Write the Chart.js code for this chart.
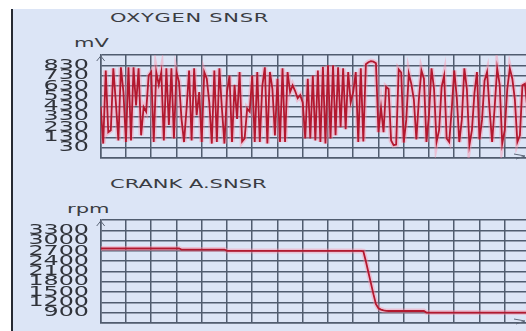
<!DOCTYPE html>
<html>
<head>
<meta charset="utf-8">
<script src="https://cdn.jsdelivr.net/npm/chart.js@4"></script>
<style>
  body {
    margin: 0;
    width: 526px;
    height: 331px;
    overflow: hidden;
    background: #ffffff;
    position: relative;
  }
  #panel {
    position: absolute;
    left: 11px;
    top: 9px;
    right: 0;
    bottom: 0;
    background: #dce5f6;
    border-left: 2px solid #262a33;
  }
  .lbl {
    position: absolute;
    font-family: "DejaVu Sans", sans-serif;
    font-size: 12px;
    line-height: 12px;
    color: #3a3c42;
    white-space: nowrap;
    transform: scaleX(1.75);
    transform-origin: 0 0;
  }
  .box {
    position: absolute;
    left: 12px;
    width: 518px;
    height: 120px;
  }
</style>
</head>
<body>
<div id="panel"></div>
<div class="lbl" style="left:110px; top:12px; letter-spacing:0.4px">OXYGEN SNSR</div>
<div class="lbl" style="left:74px; top:37px">mV</div>
<div class="lbl" style="left:110px; top:178px">CRANK A.SNSR</div>
<div class="lbl" style="left:67px; top:203px">rpm</div>
<div class="box" style="top:50px"><canvas id="o2Chart" width="518" height="120"></canvas></div>
<div class="box" style="top:215px"><canvas id="rpmChart" width="518" height="120"></canvas></div>

<script>
// oxygen sensor voltage (mV), one value per sample
const o2Values = [
  430, 70, 780, 180, 200, 800, 470, 100, 810, 570,
  85, 810, 100, 810, 440, 800, 150, 425, 380, 730,
  765, 85, 765, 640, 765, 100, 800, 250, 800, 120,
  765, 670, 310, 85, 410, 780, 100, 800, 345, 570,
  85, 765, 700, 470, 70, 780, 85, 800, 410, 70,
  570, 730, 85, 640, 310, 765, 90, 120, 410, 380,
  730, 85, 765, 85, 630, 810, 70, 765, 600, 150,
  700, 85, 800, 85, 765, 570, 635, 580, 510, 540,
  470, 120, 700, 120, 730, 100, 780, 85, 815, 70,
  830, 120, 830, 150, 810, 230, 800, 210, 765, 470,
  570, 765, 85, 800, 90, 840, 860, 870, 865, 850,
  180, 420, 180, 620, 600, 100, 55, 60, 790, 760,
  80, 300, 750, 650, 500, 110, 500, 780, 700, 85,
  350, 800, 600, 85, 200, 620, 730, 120, 85, 400,
  780, 520, 85, 300, 800, 600, 55, 200, 560, 765,
  110, 300, 680, 765, 400, 85, 420, 800, 640, 70,
  200, 600, 800, 700, 500, 85, 150, 635, 650, 400,
  200
];

// crankshaft speed (rpm), same samples
const rpmValues = [
  2770, 2770, 2770, 2770, 2770, 2770, 2770, 2770, 2770, 2770,
  2770, 2770, 2770, 2770, 2770, 2770, 2770, 2770, 2770, 2770,
  2770, 2770, 2770, 2770, 2770, 2770, 2770, 2770, 2770, 2770,
  2770, 2770, 2740, 2740, 2740, 2740, 2740, 2740, 2740, 2740,
  2740, 2740, 2740, 2740, 2740, 2740, 2740, 2740, 2740, 2740,
  2700, 2700, 2700, 2700, 2700, 2700, 2700, 2700, 2700, 2700,
  2700, 2700, 2700, 2700, 2700, 2700, 2700, 2700, 2700, 2700,
  2700, 2700, 2700, 2700, 2700, 2700, 2700, 2700, 2700, 2700,
  2700, 2700, 2700, 2700, 2700, 2700, 2700, 2700, 2700, 2700,
  2700, 2700, 2700, 2700, 2700, 2700, 2700, 2700, 2700, 2700,
  2700, 2700, 2700, 2700, 2690, 2400, 2080, 1760, 1440, 1150,
  1030, 990, 965, 955, 950, 950, 950, 950, 950, 950,
  950, 950, 950, 950, 950, 950, 950, 950, 950, 905,
  905, 905, 905, 905, 905, 905, 905, 905, 905, 905,
  905, 905, 905, 905, 905, 905, 905, 905, 905, 905,
  905, 905, 905, 905, 905, 905, 905, 905, 905, 905,
  905, 905, 905, 905, 905, 905, 905, 905, 905, 905,
  905
];

const o2Ticks = [830, 730, 630, 530, 430, 330, 230, 130, 30];
const rpmTicks = [3300, 3000, 2700, 2400, 2100, 1800, 1500, 1200, 900];

const sampleCount = 170;
const gridColor = "#505c6f";
const labelRight = 77; // right edge of tick text, inside the canvas

// tick labels are stretched sideways like the scan tool font, arrows on the axes
const axisDecor = {
  id: "axisDecor",
  afterDraw(chart) {
    const { ctx, chartArea } = chart;
    const yScale = chart.scales.y;
    const labels = chart.canvas.id === "o2Chart" ? o2Ticks : rpmTicks;
    ctx.save();
    ctx.fillStyle = "#30333a";
    ctx.font = '14px "DejaVu Sans"';
    ctx.textAlign = "left";
    ctx.textBaseline = "middle";
    labels.forEach((v) => {
      const text = String(v);
      const w = ctx.measureText(text).width * 1.7;
      ctx.setTransform(1.7, 0, 0, 1, labelRight - w, yScale.getPixelForValue(v));
      ctx.fillText(text, 0, 0);
    });
    ctx.setTransform(1, 0, 0, 1, 0, 0);

    ctx.strokeStyle = "#5d6778";
    ctx.lineWidth = 1;
    ctx.beginPath();
    ctx.moveTo(chartArea.left - 4, chartArea.top + 6);
    ctx.lineTo(chartArea.left, chartArea.top + 1);
    ctx.lineTo(chartArea.left + 4, chartArea.top + 6);
    ctx.moveTo(chartArea.right - 16, chartArea.bottom - 4);
    ctx.lineTo(chartArea.right - 5, chartArea.bottom - 2);
    ctx.lineTo(chartArea.right - 14, chartArea.bottom + 1);
    ctx.stroke();
    ctx.restore();
  },
};

function makeChart(id, values, min, max, step) {
  const points = values.map((v, i) => ({ x: i, y: v }));
  return new Chart(document.getElementById(id), {
    type: "line",
    data: {
      datasets: [
        {
          data: points,
          borderColor: "#b3182f",
          borderWidth: 1.8,
          pointRadius: 0,
          tension: 0,
        },
        {
          // pale pink glow around the trace
          data: points,
          borderColor: "rgba(255, 140, 165, 0.4)",
          borderWidth: 5,
          pointRadius: 0,
          tension: 0,
        },
      ],
    },
    options: {
      responsive: false,
      animation: false,
      devicePixelRatio: 1,
      layout: { padding: { top: 5, bottom: 12, left: 0, right: 0 } },
      plugins: {
        legend: { display: false },
        tooltip: { enabled: false },
      },
      scales: {
        x: {
          type: "linear",
          min: 0,
          max: sampleCount,
          ticks: { display: false, stepSize: 10 },
          grid: { color: gridColor, lineWidth: 1.5, drawTicks: false },
          border: { color: gridColor, width: 1.5 },
          afterFit(scale) {
            scale.height = 0;
          },
        },
        y: {
          min: min,
          max: max,
          ticks: { display: false, stepSize: step },
          grid: { color: gridColor, lineWidth: 1.5, drawTicks: false },
          border: { color: gridColor, width: 1.5 },
          afterFit(scale) {
            scale.width = 88.7;
          },
        },
      },
    },
    plugins: [axisDecor],
  });
}

makeChart("o2Chart", o2Values, -70, 930, 100);
makeChart("rpmChart", rpmValues, 600, 3600, 300);
</script>
</body>
</html>
